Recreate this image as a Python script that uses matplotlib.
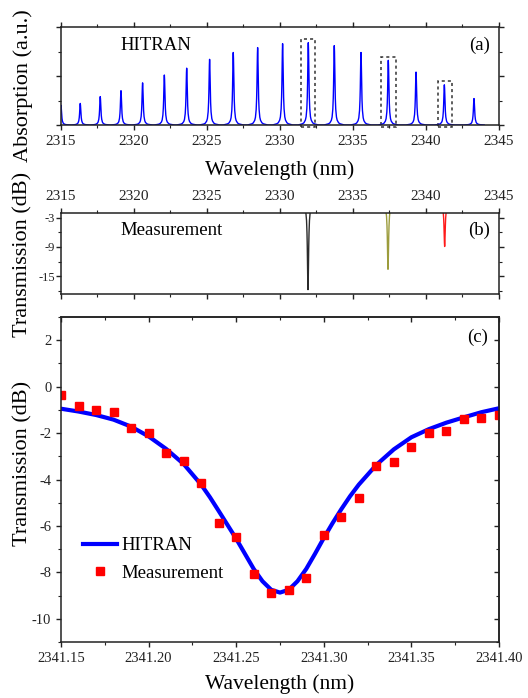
import matplotlib
matplotlib.use("Agg")
import matplotlib.pyplot as plt
from matplotlib.ticker import MultipleLocator, FixedLocator, FormatStrFormatter, NullFormatter
from matplotlib.patches import Rectangle
import numpy as np

plt.rcParams['font.family'] = ['Liberation Serif', 'DejaVu Serif']
plt.rcParams['axes.unicode_minus'] = False

# (a) HITRAN line list
line_centers = [2315.00, 2316.32, 2317.69, 2319.11, 2320.59, 2322.08, 2323.61, 2325.18, 2326.80,
                2328.47, 2330.18, 2331.94, 2333.72, 2335.55, 2337.42, 2339.32, 2341.26, 2343.29]
line_heights = [0.20, 0.22, 0.29, 0.35, 0.43, 0.51, 0.58, 0.67, 0.74,
                0.79, 0.83, 0.84, 0.81, 0.74, 0.66, 0.54, 0.41, 0.27]

# shape of one narrow line (offset in nm, relative height), read from the spikes
profile_offsets = [-0.7, -0.4, -0.3, -0.2, -0.15, -0.1, -0.07, -0.05, -0.03, -0.015, 0.0,
                   0.015, 0.03, 0.05, 0.07, 0.1, 0.15, 0.2, 0.3, 0.4, 0.7]
profile_shape = [0.0, 0.015, 0.027, 0.06, 0.10, 0.20, 0.34, 0.50, 0.74, 0.92, 1.0,
                 0.92, 0.74, 0.50, 0.34, 0.20, 0.10, 0.06, 0.027, 0.015, 0.0]

# (b) measured dips
dip_centers = [2331.92, 2337.40, 2341.28]
dip_depths = [-17.8, -13.6, -8.9]
dip_colors = ['#2b2b2b', '#9c9c3c', '#ff1a1a']

# (c) zoom on the 2341.3 nm line
hitran_wl = [2341.15, 2341.16, 2341.17, 2341.18, 2341.19, 2341.20, 2341.21, 2341.22, 2341.23,
             2341.235, 2341.24, 2341.245, 2341.25, 2341.255, 2341.26, 2341.265, 2341.27, 2341.275,
             2341.28, 2341.285, 2341.29, 2341.295, 2341.30, 2341.305, 2341.31, 2341.315, 2341.32,
             2341.33, 2341.34, 2341.35, 2341.36, 2341.37, 2341.38, 2341.39, 2341.40]
hitran_db = [-0.95, -1.07, -1.22, -1.42, -1.72, -2.14, -2.68, -3.33, -4.22,
             -4.76, -5.35, -5.95, -6.55, -7.20, -7.85, -8.38, -8.75, -8.87,
             -8.75, -8.38, -7.85, -7.20, -6.52, -5.88, -5.28, -4.72, -4.22,
             -3.37, -2.70, -2.18, -1.83, -1.55, -1.32, -1.10, -0.93]

meas_wl = [2341.15, 2341.16, 2341.17, 2341.18, 2341.19, 2341.20, 2341.21, 2341.22, 2341.23,
           2341.24, 2341.25, 2341.26, 2341.27, 2341.28, 2341.29, 2341.30, 2341.31, 2341.32,
           2341.33, 2341.34, 2341.35, 2341.36, 2341.37, 2341.38, 2341.39, 2341.40]
meas_db = [-0.36, -0.83, -1.00, -1.09, -1.76, -1.98, -2.87, -3.21, -4.15,
           -5.87, -6.48, -8.05, -8.88, -8.77, -8.24, -6.38, -5.63, -4.80,
           -3.42, -3.25, -2.61, -2.01, -1.89, -1.38, -1.36, -1.22]

fig = plt.figure(figsize=(5.28, 6.98), dpi=100)
ax_a = fig.add_axes([0.1155, 0.8209, 0.8295, 0.1404])
ax_b = fig.add_axes([0.1155, 0.5788, 0.8295, 0.116])
ax_c = fig.add_axes([0.1155, 0.0802, 0.8295, 0.4656])

offs = np.array(profile_offsets)
shape = np.array(profile_shape)
ink = '#222222'

# ---- (a)
xs = np.concatenate([c + offs for c in line_centers])
ys = np.concatenate([h * shape for h in line_heights])
order = np.argsort(xs)
ax_a.plot(xs[order], ys[order], color='#0000ff', lw=1.0)
ax_a.set_xlim(2315, 2345)
ax_a.set_ylim(0, 1)
ax_a.xaxis.set_major_locator(MultipleLocator(5))
ax_a.xaxis.set_minor_locator(MultipleLocator(2.5))
ax_a.yaxis.set_major_locator(MultipleLocator(0.5))
ax_a.yaxis.set_minor_locator(MultipleLocator(0.25))
ax_a.tick_params(axis='y', which='both', left=True, right=True, labelleft=False)
ax_a.tick_params(axis='x', which='both', top=True, bottom=True)
ax_a.set_xlabel('Wavelength (nm)', fontsize=15.5, labelpad=9)
ax_a.set_ylabel('Absorption (a.u.)', fontsize=16)
ax_a.yaxis.set_label_coords(-0.064, 0.40)
ax_a.text(0.135, 0.81, 'HITRAN', transform=ax_a.transAxes, fontsize=13.5, va='center')
ax_a.text(0.98, 0.81, '(a)', transform=ax_a.transAxes, fontsize=13.5, va='center', ha='right')
for x0, x1, top in [(2331.44, 2332.40, 0.874), (2336.94, 2337.92, 0.693), (2340.82, 2341.80, 0.454)]:
    ax_a.add_patch(Rectangle((x0, -0.02), x1 - x0, top + 0.02, fill=False, ec='#333333',
                             lw=1.1, ls=(0, (2, 2)), clip_on=False))

# ---- (b)
for c, d, col in zip(dip_centers, dip_depths, dip_colors):
    ax_b.plot(c + offs, d * shape, color=col, lw=1.0)
ax_b.set_xlim(2315, 2345)
ax_b.set_ylim(-18.7, -2.0)
ax_b.xaxis.set_major_locator(MultipleLocator(5))
ax_b.xaxis.set_minor_locator(MultipleLocator(2.5))
ax_b.yaxis.set_major_locator(FixedLocator([-3, -9, -15]))
ax_b.yaxis.set_minor_locator(FixedLocator([-6, -12, -18]))
ax_b.tick_params(axis='x', which='both', top=True, bottom=True, labeltop=True, labelbottom=False)
ax_b.tick_params(axis='y', which='both', left=True, right=True)
ax_b.set_ylabel('Transmission (dB)', fontsize=16)
ax_b.yaxis.set_label_coords(-0.064, 0.49)
ax_b.text(0.135, 0.79, 'Measurement', transform=ax_b.transAxes, fontsize=13.5, va='center')
ax_b.text(0.98, 0.79, '(b)', transform=ax_b.transAxes, fontsize=13.5, va='center', ha='right')

# ---- (c)
ax_c.plot(hitran_wl, hitran_db, color='#0000ff', lw=3, label='HITRAN')
ax_c.plot(meas_wl, meas_db, ls='none', marker='s', ms=6, color='#ff0000', mec='#ff0000',
          label='Measurement')
ax_c.set_xlim(2341.15, 2341.40)
ax_c.set_ylim(-11, 3)
ax_c.xaxis.set_major_locator(MultipleLocator(0.05))
ax_c.xaxis.set_minor_locator(MultipleLocator(0.025))
ax_c.yaxis.set_major_locator(MultipleLocator(2))
ax_c.yaxis.set_minor_locator(MultipleLocator(1))
ax_c.xaxis.set_major_formatter(FormatStrFormatter('%.2f'))
ax_c.set_xlabel('Wavelength (nm)', fontsize=15.5, labelpad=7)
ax_c.set_ylabel('Transmission (dB)', fontsize=16)
ax_c.yaxis.set_label_coords(-0.064, 0.548)
ax_c.text(0.975, 0.938, '(c)', transform=ax_c.transAxes, fontsize=13.5, va='center', ha='right')
ax_c.legend(loc='upper left', bbox_to_anchor=(0.05, 0.322), frameon=False, fontsize=13.5,
            handlelength=1.8, handletextpad=0.25, borderpad=0, borderaxespad=0,
            labelspacing=0.55, numpoints=1)

for ax in (ax_a, ax_b, ax_c):
    for s in ax.spines.values():
        s.set_linewidth(1.1)
        s.set_color(ink)
    ax.tick_params(which='major', length=3.5, width=1, labelsize=11, colors=ink, direction='out')
    ax.tick_params(which='minor', length=2, width=0.8, colors=ink, direction='out')
ax_b.tick_params(axis='y', labelsize=9, pad=1)
ax_c.tick_params(labelsize=10.5)

# (c): inward ticks on the top and right edges
sec_x = ax_c.secondary_xaxis('top')
sec_x.xaxis.set_major_locator(MultipleLocator(0.05))
sec_x.xaxis.set_minor_locator(MultipleLocator(0.025))
sec_x.xaxis.set_major_formatter(NullFormatter())
sec_x.tick_params(which='major', direction='in', length=3.5, width=1, colors=ink)
sec_x.tick_params(which='minor', direction='in', length=2, width=0.8, colors=ink)
sec_y = ax_c.secondary_yaxis('right')
sec_y.yaxis.set_major_locator(MultipleLocator(2))
sec_y.yaxis.set_minor_locator(MultipleLocator(1))
sec_y.yaxis.set_major_formatter(NullFormatter())
sec_y.tick_params(which='major', direction='in', length=3.5, width=1, colors=ink)
sec_y.tick_params(which='minor', direction='in', length=2, width=0.8, colors=ink)
for sec in (sec_x, sec_y):
    for s in sec.spines.values():
        s.set_linewidth(1.1)
        s.set_color(ink)

fig.savefig('out.png', dpi=100)
